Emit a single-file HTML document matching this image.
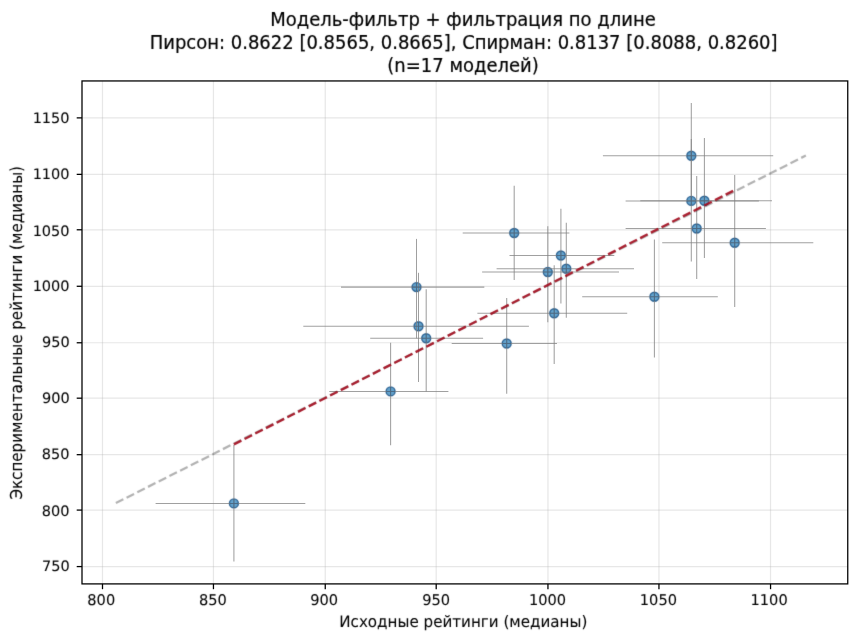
<!DOCTYPE html>
<html lang="ru">
<head>
<meta charset="utf-8">
<title>Модель-фильтр + фильтрация по длине</title>
<style>
html,body{margin:0;padding:0;background:#fff;}
body{width:857px;height:641px;overflow:hidden;}
svg{display:block;}
text{font-family:"DejaVu Sans","Liberation Sans",sans-serif;fill:#000;}
.tk{font-size:14.6px;stroke:#000;stroke-width:0.08px;text-rendering:geometricPrecision;}
.tt{font-size:17.99px;stroke:#000;stroke-width:0.2px;}
.lb{font-size:15.13px;stroke:#000;stroke-width:0.07px;text-rendering:geometricPrecision;}
</style>
</head>
<body>
<svg width="857" height="641" viewBox="0 0 857 641">
<rect x="0" y="0" width="857" height="641" fill="#ffffff"/>

<defs><filter id="soft" filterUnits="userSpaceOnUse" x="0" y="0" width="857" height="641" color-interpolation-filters="sRGB"><feConvolveMatrix order="3" kernelMatrix="0.01000 0.08000 0.01000 0.08000 0.64000 0.08000 0.01000 0.08000 0.01000" edgeMode="duplicate" preserveAlpha="false"/></filter></defs>
<g stroke="#b0b0b0" stroke-opacity="0.3" stroke-width="1.2" fill="none">
<line x1="102.50" y1="80.95" x2="102.50" y2="583.90"/>
<line x1="213.45" y1="80.95" x2="213.45" y2="583.90"/>
<line x1="325.25" y1="80.95" x2="325.25" y2="583.90"/>
<line x1="436.20" y1="80.95" x2="436.20" y2="583.90"/>
<line x1="547.95" y1="80.95" x2="547.95" y2="583.90"/>
<line x1="658.95" y1="80.95" x2="658.95" y2="583.90"/>
<line x1="770.55" y1="80.95" x2="770.55" y2="583.90"/>
<line x1="82.00" y1="566.58" x2="847.75" y2="566.58"/>
<line x1="82.00" y1="510.08" x2="847.75" y2="510.08"/>
<line x1="82.00" y1="454.68" x2="847.75" y2="454.68"/>
<line x1="82.00" y1="398.18" x2="847.75" y2="398.18"/>
<line x1="82.00" y1="342.77" x2="847.75" y2="342.77"/>
<line x1="82.00" y1="286.28" x2="847.75" y2="286.28"/>
<line x1="82.00" y1="229.78" x2="847.75" y2="229.78"/>
<line x1="82.00" y1="174.37" x2="847.75" y2="174.37"/>
<line x1="82.00" y1="117.88" x2="847.75" y2="117.88"/>
</g>
<g filter="url(#soft)">
<g fill="#1f77b4" fill-opacity="0.7" stroke="#1a5487" stroke-opacity="0.85" stroke-width="1.4">
<circle cx="233.90" cy="503.40" r="4.5"/>
<circle cx="416.50" cy="287.10" r="4.5"/>
<circle cx="418.50" cy="326.20" r="4.5"/>
<circle cx="426.20" cy="338.30" r="4.5"/>
<circle cx="390.60" cy="391.40" r="4.5"/>
<circle cx="514.20" cy="233.00" r="4.5"/>
<circle cx="560.90" cy="255.50" r="4.5"/>
<circle cx="547.80" cy="272.00" r="4.5"/>
<circle cx="566.30" cy="268.80" r="4.5"/>
<circle cx="554.20" cy="313.30" r="4.5"/>
<circle cx="506.70" cy="343.50" r="4.5"/>
<circle cx="654.40" cy="296.70" r="4.5"/>
<circle cx="691.30" cy="155.70" r="4.5"/>
<circle cx="691.30" cy="200.90" r="4.5"/>
<circle cx="704.40" cy="200.70" r="4.5"/>
<circle cx="696.70" cy="228.50" r="4.5"/>
<circle cx="734.70" cy="242.70" r="4.5"/>
</g>
</g>
<g stroke="#808080" stroke-opacity="0.75" stroke-width="1.05" fill="none">
<line x1="155.60" y1="503.40" x2="305.30" y2="503.40"/>
<line x1="233.90" y1="444.70" x2="233.90" y2="561.40"/>
<line x1="341.00" y1="287.10" x2="484.30" y2="287.10"/>
<line x1="416.50" y1="238.90" x2="416.50" y2="338.40"/>
<line x1="303.30" y1="326.20" x2="528.90" y2="326.20"/>
<line x1="418.50" y1="272.80" x2="418.50" y2="382.00"/>
<line x1="370.20" y1="338.30" x2="483.10" y2="338.30"/>
<line x1="426.20" y1="289.20" x2="426.20" y2="391.40"/>
<line x1="329.30" y1="391.40" x2="448.40" y2="391.40"/>
<line x1="390.60" y1="342.70" x2="390.60" y2="445.20"/>
<line x1="462.70" y1="233.00" x2="569.40" y2="233.00"/>
<line x1="514.20" y1="185.70" x2="514.20" y2="280.00"/>
<line x1="509.50" y1="255.50" x2="614.30" y2="255.50"/>
<line x1="560.90" y1="208.70" x2="560.90" y2="303.50"/>
<line x1="482.10" y1="272.00" x2="619.00" y2="272.00"/>
<line x1="547.80" y1="226.20" x2="547.80" y2="322.20"/>
<line x1="496.60" y1="268.80" x2="634.00" y2="268.80"/>
<line x1="566.30" y1="222.70" x2="566.30" y2="317.80"/>
<line x1="477.40" y1="313.30" x2="627.20" y2="313.30"/>
<line x1="554.20" y1="265.30" x2="554.20" y2="364.10"/>
<line x1="451.70" y1="343.50" x2="557.00" y2="343.50"/>
<line x1="506.70" y1="298.10" x2="506.70" y2="393.80"/>
<line x1="582.20" y1="296.70" x2="717.80" y2="296.70"/>
<line x1="654.40" y1="239.40" x2="654.40" y2="357.50"/>
<line x1="602.90" y1="155.70" x2="773.20" y2="155.70"/>
<line x1="691.30" y1="102.90" x2="691.30" y2="201.00"/>
<line x1="625.60" y1="200.90" x2="758.90" y2="200.90"/>
<line x1="691.30" y1="139.10" x2="691.30" y2="261.50"/>
<line x1="640.30" y1="200.70" x2="772.00" y2="200.70"/>
<line x1="704.40" y1="138.00" x2="704.40" y2="258.00"/>
<line x1="625.60" y1="228.50" x2="765.90" y2="228.50"/>
<line x1="696.70" y1="176.10" x2="696.70" y2="278.90"/>
<line x1="662.20" y1="242.70" x2="813.30" y2="242.70"/>
<line x1="734.70" y1="174.90" x2="734.70" y2="307.00"/>
</g>
<g stroke="#1d4f7d" stroke-opacity="0.5" stroke-width="1.05" fill="none">
<path d="M229.60 503.40H238.20M233.90 499.10V507.70"/>
<path d="M412.20 287.10H420.80M416.50 282.80V291.40"/>
<path d="M414.20 326.20H422.80M418.50 321.90V330.50"/>
<path d="M421.90 338.30H430.50M426.20 334.00V342.60"/>
<path d="M386.30 391.40H394.90M390.60 387.10V395.70"/>
<path d="M509.90 233.00H518.50M514.20 228.70V237.30"/>
<path d="M556.60 255.50H565.20M560.90 251.20V259.80"/>
<path d="M543.50 272.00H552.10M547.80 267.70V276.30"/>
<path d="M562.00 268.80H570.60M566.30 264.50V273.10"/>
<path d="M549.90 313.30H558.50M554.20 309.00V317.60"/>
<path d="M502.40 343.50H511.00M506.70 339.20V347.80"/>
<path d="M650.10 296.70H658.70M654.40 292.40V301.00"/>
<path d="M687.00 155.70H695.60M691.30 151.40V160.00"/>
<path d="M687.00 200.90H695.60M691.30 196.60V205.20"/>
<path d="M700.10 200.70H708.70M704.40 196.40V205.00"/>
<path d="M692.40 228.50H701.00M696.70 224.20V232.80"/>
<path d="M730.40 242.70H739.00M734.70 238.40V247.00"/>
</g>
<g filter="url(#soft)">
<line x1="115.87" y1="503.06" x2="805.86" y2="155.54" stroke="#000" stroke-opacity="0.3" stroke-width="2.26" stroke-dasharray="8.37 3.62" fill="none"/>
<line x1="233.91" y1="444.42" x2="735.03" y2="189.90" stroke="#a61224" stroke-opacity="0.92" stroke-width="2.35" stroke-dasharray="8.37 3.62" fill="none"/>
</g>
<rect x="82.00" y="80.95" width="765.75" height="502.95" fill="none" stroke="#000" stroke-width="1.28"/>
<g stroke="#000" stroke-width="1.28">
<line x1="102.50" y1="583.90" x2="102.50" y2="589.20"/>
<line x1="213.45" y1="583.90" x2="213.45" y2="589.20"/>
<line x1="325.25" y1="583.90" x2="325.25" y2="589.20"/>
<line x1="436.20" y1="583.90" x2="436.20" y2="589.20"/>
<line x1="547.95" y1="583.90" x2="547.95" y2="589.20"/>
<line x1="658.95" y1="583.90" x2="658.95" y2="589.20"/>
<line x1="770.55" y1="583.90" x2="770.55" y2="589.20"/>
<line x1="76.70" y1="566.58" x2="82.00" y2="566.58"/>
<line x1="76.70" y1="510.08" x2="82.00" y2="510.08"/>
<line x1="76.70" y1="454.68" x2="82.00" y2="454.68"/>
<line x1="76.70" y1="398.18" x2="82.00" y2="398.18"/>
<line x1="76.70" y1="342.77" x2="82.00" y2="342.77"/>
<line x1="76.70" y1="286.28" x2="82.00" y2="286.28"/>
<line x1="76.70" y1="229.78" x2="82.00" y2="229.78"/>
<line x1="76.70" y1="174.37" x2="82.00" y2="174.37"/>
<line x1="76.70" y1="117.88" x2="82.00" y2="117.88"/>
</g>
<g filter="url(#soft)">
<g class="tk" text-anchor="middle">
<text transform="translate(101.25,605.00) scale(1,1.02)">800</text>
<text transform="translate(212.85,605.00) scale(1,1.02)">850</text>
<text transform="translate(324.20,605.00) scale(1,1.02)">900</text>
<text transform="translate(436.20,605.00) scale(1,1.02)">950</text>
<text transform="translate(547.50,605.00) scale(1,1.02)">1000</text>
<text transform="translate(658.40,605.00) scale(1,1.02)">1050</text>
<text transform="translate(769.10,605.00) scale(1,1.02)">1100</text>
</g>
<g class="tk" text-anchor="end" style="font-size:14.5px">
<text transform="translate(69.65,571.00) scale(1,1.0)">750</text>
<text transform="translate(69.55,516.00) scale(1,1.0)">800</text>
<text transform="translate(69.55,459.00) scale(1,1.0)">850</text>
<text transform="translate(69.65,403.00) scale(1,1.0)">900</text>
<text transform="translate(69.65,347.00) scale(1,1.0)">950</text>
<text transform="translate(69.55,291.00) scale(1,1.0)">1000</text>
<text transform="translate(69.55,236.00) scale(1,1.0)">1050</text>
<text transform="translate(69.55,179.00) scale(1,1.0)">1100</text>
<text transform="translate(69.55,123.00) scale(1,1.0)">1150</text>
</g>
<g class="tt" text-anchor="middle">
<text transform="translate(462.96,26.00) scale(1,1.04)">Модель-фильтр + фильтрация по длине</text>
<text transform="translate(463.65,49.00) scale(1,1.04)">Пирсон: 0.8622 [0.8565, 0.8665], Спирман: 0.8137 [0.8088, 0.8260]</text>
<text transform="translate(463.00,72.00) scale(1,1.04)">(n=17 моделей)</text>
</g>
<text class="lb" text-anchor="middle" transform="translate(463.29,627.00) scale(1,1.05)">Исходные рейтинги (медианы)</text>
<text class="lb" text-anchor="middle" transform="translate(22.30,332.80) rotate(-90) scale(1,1.09)">Экспериментальные рейтинги (медианы)</text>
</g>
</svg>
</body>
</html>
